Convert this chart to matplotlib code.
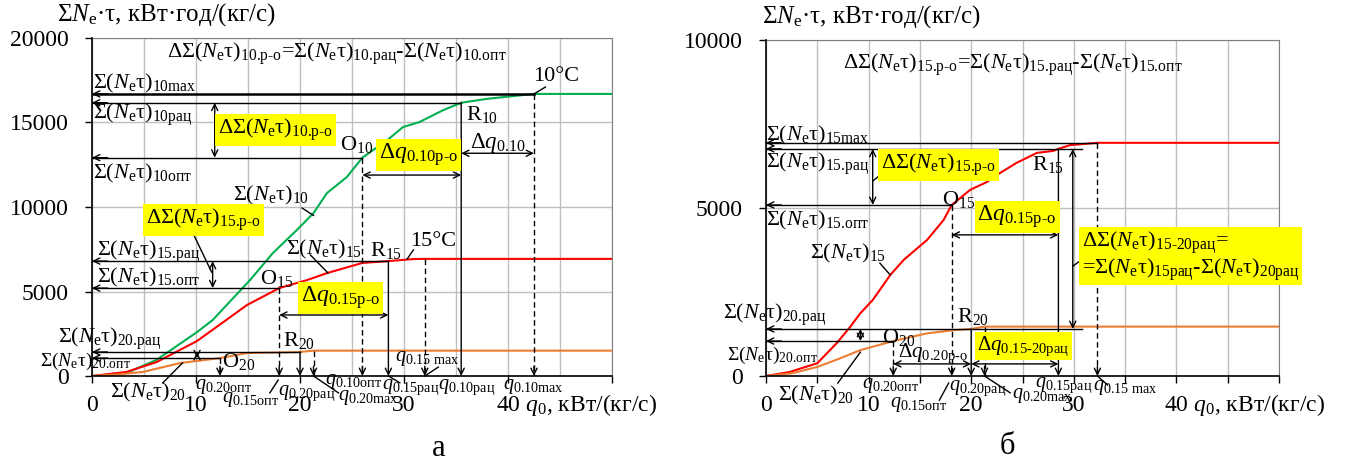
import numpy as np
import matplotlib
matplotlib.use('Agg')
import matplotlib.pyplot as plt

plt.rcParams['font.family'] = 'Liberation Serif'
plt.rcParams['mathtext.fontset'] = 'custom'
plt.rcParams['mathtext.rm'] = 'Liberation Serif'
plt.rcParams['mathtext.it'] = 'Liberation Serif:italic'
plt.rcParams['mathtext.bf'] = 'Liberation Serif:bold'

# ---- панель а: накопичена робота при 10, 15, 20 °C ----
q_a10 = [0, 3.3, 6.2, 10.1, 11.6, 15.2, 17.4, 19.7, 21.3, 22.6, 24.5, 26.0, 28.4,
         29.9, 31.5, 33.8, 35.5, 38.0, 39.5, 42.5, 50]
s_a10 = [0, 180, 950, 2600, 3310, 5680, 7280, 8640, 9640, 10830, 11770, 12920, 13960,
         14730, 15030, 15740, 16170, 16400, 16500, 16690, 16690]
q_a15 = [0, 3.3, 6.2, 10.1, 12.9, 14.9, 18.0, 20.7, 22.6, 26.0, 28.5, 30.9, 32.0, 50]
s_a15 = [0, 240, 820, 2070, 3310, 4200, 5200, 5680, 6090, 6690, 6800, 6920, 6930, 6930]
q_a20 = [0, 2.5, 4.9, 8.5, 12.3, 14.9, 18.1, 20.0, 21.3, 50]
s_a20 = [0, 90, 240, 770, 1060, 1360, 1390, 1420, 1500, 1500]

# точки опт / рац / max для 10, 15, 20 °C
a_opt_q = [26.0, 18.0, 12.3]
a_opt_s = [12920, 5200, 1060]
a_rat_q = [35.5, 28.5, 20.0]
a_rat_s = [16170, 6800, 1420]
a_max_q = [42.5, 32.0, 21.3]
a_max_s = [16690, 6930, 1500]

# ---- панель б: 15 і 20 °C ----
q_b15 = [0, 2.3, 5.0, 6.9, 8.2, 9.2, 10.4, 12.1, 13.4, 15.7, 17.3, 18.1, 19.9, 21.5,
         22.8, 24.4, 26.4, 28.0, 28.5, 29.6, 31.9, 32.3, 50]
s_b15 = [0, 120, 380, 980, 1460, 1870, 2260, 3000, 3450, 4050, 4640, 5090, 5540, 5770,
         6040, 6340, 6640, 6700, 6760, 6870, 6930, 6940, 6940]
q_b20 = [0, 2.5, 5.0, 7.0, 9.2, 12.4, 15.7, 18.2, 20.0, 21.3, 50]
s_b20 = [0, 80, 270, 500, 770, 1040, 1270, 1360, 1400, 1470, 1470]

b_opt_q = [18.1, 12.4]
b_opt_s = [5090, 1040]
b_rat_q = [28.5, 20.0]
b_rat_s = [6760, 1400]
b_max_q = [32.3, 21.3]
b_max_s = [6940, 1470]

GREEN = '#00b050'
RED = '#ff0000'
ORANGE = '#ed7d31'
FS = 16      # підписи
FT = 17      # шкали
FQ = 14.5    # підписи q
YEL = dict(boxstyle='square,pad=0.12', fc='yellow', ec='none')


def sn(sub, delta=False):
    d = r'\text{Δ}' if delta else ''
    return r'$' + d + r'\text{Σ(}N_{\text{e}}\text{τ)}_{\text{' + sub + '}}$'


def qn(sub, delta=False):
    d = r'\text{Δ}' if delta else ''
    return r'$' + d + r'q_{\text{' + sub + '}}$'


def ap(style='->'):
    return dict(arrowstyle=style + ',head_length=0.45,head_width=0.22',
                lw=1.0, color='k', shrinkA=0, shrinkB=0, mutation_scale=10)


def arrow(ax, x0, y0, x1, y1, style='->'):
    ax.annotate('', xy=(x1, y1), xytext=(x0, y0), arrowprops=ap(style),
                annotation_clip=False)


def drop(ax, x, y, dashed=False):
    # вертикаль від точки кривої до осі q0 зі стрілкою
    if dashed:
        ax.plot([x, x], [y, 0], color='k', lw=1.0, ls=(0, (4, 2.5)), zorder=4)
        ax.annotate('', xy=(x, 0), xytext=(0, 7), textcoords='offset points',
                    arrowprops=ap(), annotation_clip=False)
    else:
        arrow(ax, x, y, x, 0)


def to_axis(ax, x, y, lw=1.0):
    ax.plot([0, x], [y, y], color='k', lw=lw, zorder=4)
    ax.annotate('', xy=(0, y), xytext=(0 + 1.5, y), arrowprops=ap(),
                annotation_clip=False)


def leader(ax, x0, y0, x1, y1):
    ax.plot([x0, x1], [y0, y1], color='k', lw=1.0, clip_on=False, zorder=4)


def label(ax, x, y, s, fs=FS, box=False, **kw):
    ax.text(x, y, s, fontsize=fs, ha=kw.pop('ha', 'left'), va=kw.pop('va', 'center'),
            bbox=YEL if box else None, clip_on=False, zorder=6, **kw)


def style_axes(ax, ymax, xminor_ticks):
    ax.set_xlim(0, 50)
    ax.set_ylim(0, ymax)
    ax.set_xticks(np.arange(0, 51, 10))
    ax.set_xticklabels(['0', '10', '20', '30', '', ''])
    ax.set_xticks(np.arange(0, 51, 5), minor=True)
    ax.set_yticks(np.arange(0, ymax + 1, 5000))
    ax.set_yticklabels([str(v) for v in range(0, ymax + 1, 5000)])
    ax.grid(True, which='both', axis='x', color='#bfbfbf', lw=1.0)
    ax.grid(True, which='major', axis='y', color='#bfbfbf', lw=1.0)
    ax.set_axisbelow(True)
    for side in ('top', 'right'):
        ax.spines[side].set_color('#808080')
    for side in ('left', 'bottom'):
        ax.spines[side].set_color('k')
        ax.spines[side].set_linewidth(1.2)
        ax.spines[side].set_zorder(5)
    ax.tick_params(axis='x', which='major', length=5, width=1, pad=9, labelsize=FT)
    ax.tick_params(axis='x', which='minor', length=5 if xminor_ticks else 0, width=1)
    ax.tick_params(axis='y', length=5, width=1, pad=12, labelsize=FT)
    ax.annotate('40 $q_0$, кВт/(кг/с)', xy=(40, 0), xytext=(-9, -21),
                textcoords='offset points', fontsize=FT, ha='left', va='center',
                annotation_clip=False)
    ax.text(-0.068 if ymax == 20000 else -0.008, 1.07,
            r'$\text{Σ}N_{\text{e}}\text{·τ, кВт·год/(кг/с)}$',
            transform=ax.transAxes, fontsize=18, ha='left', va='center')


fig = plt.figure(figsize=(13.49, 4.63), dpi=100)
ax1 = fig.add_axes([92 / 1349, 87 / 463, 520 / 1349, 338 / 463])
ax2 = fig.add_axes([766 / 1349, 87 / 463, 513 / 1349, 336 / 463])

# ================= панель а =================
ax = ax1
style_axes(ax, 20000, False)
ax.plot(q_a10, s_a10, color=GREEN, lw=1.5, zorder=3)
ax.plot(q_a15, s_a15, color=RED, lw=1.5, zorder=3)
ax.plot(q_a20, s_a20, color=ORANGE, lw=1.5, zorder=3)

for i in range(3):
    to_axis(ax, a_opt_q[i], a_opt_s[i])
    to_axis(ax, a_rat_q[i], a_rat_s[i])
    drop(ax, a_opt_q[i], a_opt_s[i], dashed=True)
    drop(ax, a_rat_q[i], a_rat_s[i])
    drop(ax, a_max_q[i], a_max_s[i], dashed=True)
to_axis(ax, a_max_q[0], a_max_s[0], lw=1.8)

arrow(ax, 11.8, a_opt_s[0], 11.8, a_rat_s[0], '<->')
arrow(ax, 11.6, a_opt_s[1], 11.6, a_rat_s[1], '<->')
arrow(ax, 10.1, a_opt_s[2], 10.1, a_rat_s[2], '<->')
arrow(ax, a_opt_q[0], 11890, a_rat_q[0], 11890, '<->')
arrow(ax, a_rat_q[0], 13180, a_max_q[0], 13180, '<->')
arrow(ax, a_opt_q[1], 3610, a_rat_q[1], 3610, '<->')

label(ax, 7.2, 19050, sn('10.р-о', True)[:-1] + r'\text{=Σ(}N_{\text{e}}\text{τ)}_{\text{10.рац}}'
      r'\text{-Σ(}N_{\text{e}}\text{τ)}_{\text{10.опт}}$')
label(ax, 0.1, 17310, sn('10max'))
label(ax, 0.1, 15440, sn('10рац'))
label(ax, 0.1, 12010, sn('10опт'))
label(ax, 12.1, 14560, sn('10.р-о', True), box=True)
label(ax, 23.8, 13670, r'$\text{O}_{\text{10}}$')
label(ax, 27.6, 13080, qn('0.10р-о', True), fs=17, box=True)
label(ax, 36.0, 15500, r'$\text{R}_{\text{10}}$')
label(ax, 36.3, 13790, qn('0.10', True), fs=16.5)
label(ax, 42.4, 17750, '10°C')
leader(ax, 42.5, a_max_s[0], 43.6, 17100)
label(ax, 13.6, 10710, sn('10'))
leader(ax, 20.2, 9940, 21.3, 9500)
label(ax, 5.2, 9230, sn('15.р-о', True), box=True)
leader(ax, 9.7, 8460, 11.5, 6150)
label(ax, 0.5, 7340, sn('15.рац'))
label(ax, 0.5, 5800, sn('15.опт'))
label(ax, 18.7, 7510, sn('15'))
leader(ax, 21.0, 7160, 22.7, 6090)
label(ax, 26.7, 7400, r'$\text{R}_{\text{15}}$')
label(ax, 30.6, 7930, '15°C')
leader(ax, 30.3, 6920, 30.9, 7460)
label(ax, 16.2, 5740, r'$\text{O}_{\text{15}}$')
label(ax, 20.1, 4620, qn('0.15р-о', True), fs=17, box=True)
label(ax, -3.3, 2190, sn('20.рац'))
label(ax, -5.0, 890, sn('20.опт'), fs=14)
label(ax, 12.5, 830, r'$\text{O}_{\text{20}}$')
label(ax, 18.4, 2130, r'$\text{R}_{\text{20}}$')
label(ax, 1.7, -950, sn('20'))
leader(ax, 6.8, -410, 8.7, 770)
label(ax, 9.9, -650, qn('0.20опт'), fs=FQ)
label(ax, 12.5, -1420, qn('0.15опт'), fs=FQ)
leader(ax, 17.1, -1000, 17.9, -240)
label(ax, 17.9, -1000, qn('0.20рац'), fs=FQ)
label(ax, 23.7, -1300, qn('0.20max'), fs=FQ)
leader(ax, 21.3, 0, 23.7, -1000)
label(ax, 22.4, -350, qn('0.10опт'), fs=FQ)
label(ax, 27.9, -650, qn('0.15рац'), fs=FQ)
leader(ax, 28.5, 0, 29.6, -400)
label(ax, 33.3, -650, qn('0.10рац'), fs=FQ)
label(ax, 29.1, 1060, qn('0.15 max'), fs=FQ)
leader(ax, 32.0, 0, 33.3, 530)
label(ax, 39.5, -650, qn('0.10max'), fs=FQ)

# ================= панель б =================
ax = ax2
style_axes(ax, 10000, True)
ax.plot(q_b15, s_b15, color=RED, lw=1.5, zorder=3)
ax.plot(q_b20, s_b20, color=ORANGE, lw=1.5, zorder=3)

to_axis(ax, b_max_q[0], b_max_s[0])
to_axis(ax, 30.8, b_rat_s[0])
to_axis(ax, b_opt_q[0], b_opt_s[0])
to_axis(ax, 30.8, b_rat_s[1])
to_axis(ax, b_opt_q[1], b_opt_s[1])
for i in range(2):
    drop(ax, b_opt_q[i], b_opt_s[i], dashed=True)
    drop(ax, b_rat_q[i], b_rat_s[i])
    drop(ax, b_max_q[i], b_max_s[i], dashed=True)

arrow(ax, 10.4, b_opt_s[0], 10.4, b_rat_s[0], '<->')
arrow(ax, 9.2, b_opt_s[1], 9.2, b_rat_s[1], '<->')
arrow(ax, b_opt_q[0], 4200, b_rat_q[0], 4200, '<->')
arrow(ax, b_opt_q[1], 360, b_rat_q[1], 360, '<->')
arrow(ax, b_rat_q[1], 360, b_rat_q[0], 360, '<->')
arrow(ax, 29.9, b_rat_s[1], 29.9, b_rat_s[0], '<->')

label(ax, 7.5, 9255, sn('15.р-о', True)[:-1] + r'\text{=Σ(}N_{\text{e}}\text{τ)}_{\text{15.рац}}'
      r'\text{-Σ(}N_{\text{e}}\text{τ)}_{\text{15.опт}}$')
label(ax, 0.0, 7170, sn('15max'))
label(ax, 0.0, 6310, sn('15.рац'))
label(ax, 0.0, 4640, sn('15.опт'))
label(ax, 11.2, 6280, sn('15.р-о', True), box=True)
leader(ax, 10.4, 5800, 11.0, 5950)
label(ax, 17.2, 5240, r'$\text{O}_{\text{15}}$')
label(ax, 25.9, 6280, r'$\text{R}_{\text{15}}$')
label(ax, 20.6, 4730, qn('0.15р-о', True), fs=17, box=True)
label(ax, 30.8, 3570,
      r'$\text{ΔΣ(}N_{\text{e}}\text{τ)}_{\text{15-20рац}}\text{=}$' + '\n' +
      r'$\text{=Σ(}N_{\text{e}}\text{τ)}_{\text{15рац}}\text{-Σ(}N_{\text{e}}\text{τ)}_{\text{20рац}}$',
      fs=16, box=True, linespacing=1.0)
leader(ax, 29.9, 3270, 30.6, 3420)
label(ax, 4.3, 3660, sn('15'))
leader(ax, 11.1, 3360, 12.1, 3010)
label(ax, -4.2, 1820, sn('20.рац'))
label(ax, -3.8, 620, sn('20.опт'), fs=14)
label(ax, 11.3, 1160, r'$\text{O}_{\text{20}}$')
label(ax, 18.6, 1760, r'$\text{R}_{\text{20}}$')
label(ax, 12.9, 680, qn('0.20р-о', True), fs=15)
label(ax, 20.6, 890, qn('0.15-20рац', True), fs=15, box=True)
label(ax, 1.2, -570, sn('20'))
leader(ax, 7.0, -210, 9.2, 710)
label(ax, 9.4, -270, qn('0.20опт'), fs=FQ)
label(ax, 12.1, -860, qn('0.15опт'), fs=FQ)
leader(ax, 16.9, -720, 17.8, -210)
label(ax, 17.8, -360, qn('0.20рац'), fs=FQ)
label(ax, 24.0, -570, qn('0.20max'), fs=FQ)
leader(ax, 21.3, 0, 23.8, -500)
label(ax, 26.2, -270, qn('0.15рац'), fs=FQ)
label(ax, 31.9, -330, qn('0.15 max'), fs=FQ)
leader(ax, 32.3, 0, 33.3, -270)

fig.text(439 / 1349, 1 - 449 / 463, 'а', fontsize=22, ha='center', va='center')
fig.text(1007 / 1349, 1 - 447 / 463, 'б', fontsize=22, ha='center', va='center')

fig.savefig('out.png', dpi=100)
